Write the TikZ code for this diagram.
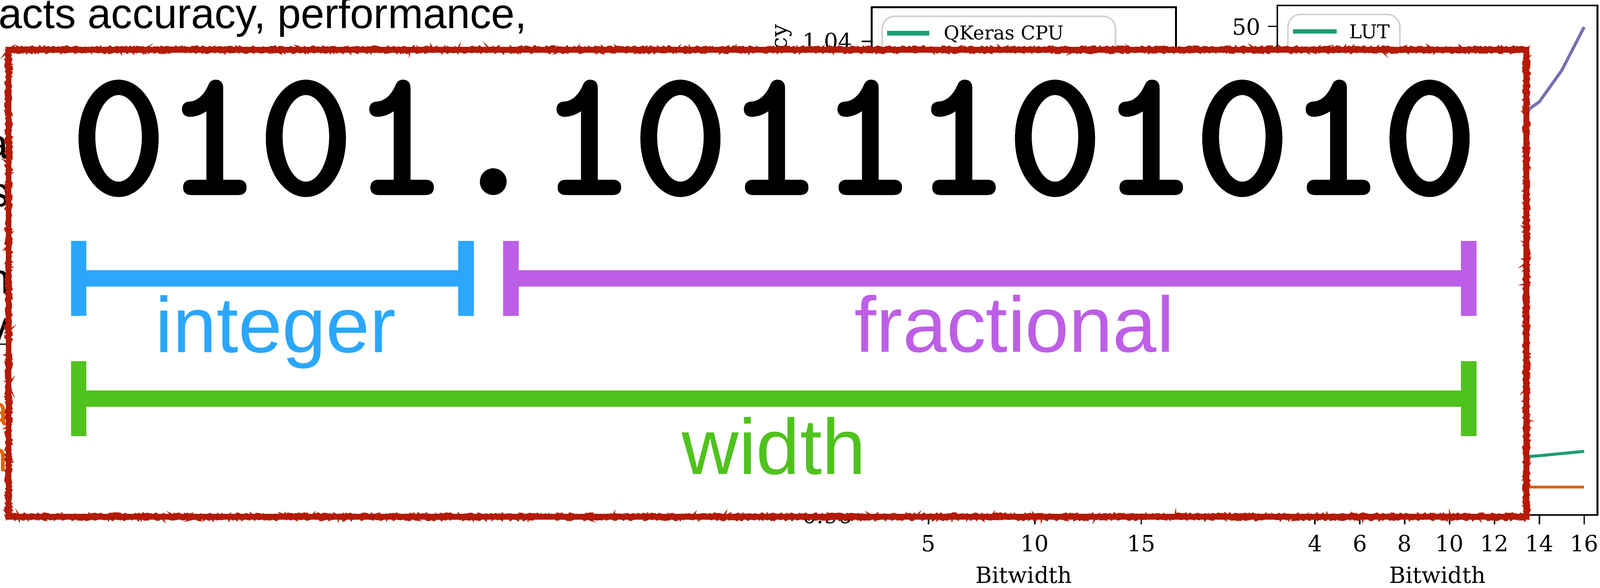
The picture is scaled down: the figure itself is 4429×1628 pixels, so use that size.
\documentclass[tikz,border=0pt]{standalone}
\usepackage{fontspec}
\setmainfont{Liberation Sans}
\newfontfamily\plotfont{DejaVu Serif}
\newfontfamily\bitfont{lmmono10-regular.otf}[FakeBold=2.5]
\usetikzlibrary{decorations.pathmorphing}
\definecolor{intblue}{RGB}{42,167,253}
\definecolor{fracpurple}{RGB}{189,95,230}
\definecolor{widthgreen}{RGB}{80,194,30}
\definecolor{roughred}{RGB}{180,26,4}
\definecolor{dtwogreen}{RGB}{27,158,119}
\definecolor{dtwoorange}{RGB}{217,95,2}
\definecolor{dtwopurple}{RGB}{117,112,179}
\definecolor{legendgray}{RGB}{208,208,208}
\definecolor{slideorange}{RGB}{222,100,8}

\tikzset{
  spanbar/.style={line width=13pt},
  spantick/.style={line width=12.2pt},
  spanlabel/.style={font=\fontsize{62}{70}\selectfont, inner sep=0, anchor=base},
  plotlabel/.style={font=\plotfont\fontsize{17.6}{20}\selectfont, inner sep=0},
  legendtext/.style={font=\plotfont\fontsize{15}{17}\selectfont, inner sep=0, anchor=base west},
  legendframe/.style={legendgray, line width=1.2pt, rounded corners=10},
  spine/.style={line width=1.4pt},
  plottick/.style={line width=1.2pt},
  curve/.style={line width=2.4pt},
  slidetext/.style={font=\fontsize{33.3}{40}\selectfont, inner sep=0},
  roughedge/.style={roughred, decorate, decoration={random steps, segment length=1.2pt, amplitude=1.1pt}},
}

\begin{document}
\begin{tikzpicture}[x=0.01cm, y=-0.01cm]
\useasboundingbox (0,0) rectangle (4429,1628);
\fill[white] (0,0) rectangle (4429,1628);

% slide behind the overlay
\node[slidetext, anchor=base west] (slideline) at (-5,78) {acts accuracy, performance,};
\node[slidetext, anchor=base east] (fraga) at (24,440) {a};
\node[slidetext, anchor=base east] (frags) at (26,573) {s};
\node[slidetext, anchor=base east] (fragn) at (28,813) {n};
\node[slidetext, anchor=base east] (fragv) at (24,945) {v};
\draw[line width=0.9pt] (0,953) -- (30,953);
\node[slidetext, anchor=base east, text=slideorange] (fragoa) at (24,1178) {a};
\node[slidetext, anchor=base east, text=slideorange] (fragon) at (22,1306) {n};

% left plot
\draw[spine] (2413,20) rectangle (3255,1428);
\draw[legendframe] (2442,300) -- (2442,45) -- (3088,45) -- (3088,300);
\draw[dtwogreen, line width=3.5pt] (2456,92) -- (2572,92);
\node[legendtext] (lgqkeras) at (2612,110) {QKeras CPU};
\draw[plottick] (2385,115) -- (2413,115);
\node[plotlabel, anchor=base east] (ytop) at (2360,137) {1.04};
\node[plotlabel, anchor=base east] (ybot) at (2360,1450) {0.96};
\node[plotlabel, rotate=90, anchor=base east] (yaxis) at (2178,67) {Accuracy};
\foreach \x/\v in {2570/5,2864/10,3159/15} {
  \draw[plottick] (\x,1428) -- (\x,1452);
  \node[plotlabel, anchor=base] (bwa\v) at (\x,1527) {\v};
}
\node[plotlabel, anchor=base] (xaxisa) at (2834,1615) {Bitwidth};

% right plot
\draw[dtwopurple, curve] (4012,420) -- (4136,370) -- (4261,282) -- (4323,195) -- (4385,75);
\draw[dtwogreen, curve] (4012,1280) -- (4136,1272) -- (4261,1262) -- (4385,1250);
\draw[dtwoorange, curve] (4012,1349) -- (4385,1349);
\draw[spine] (3536,15) rectangle (4422,1426);
\draw[legendframe] (3565,300) -- (3565,40) -- (3875,40) -- (3875,300);
\draw[dtwogreen, line width=3.5pt] (3579,87) -- (3700,87);
\node[legendtext] (lglut) at (3735,107) {LUT};
\draw[plottick] (3510,73) -- (3536,73);
\node[plotlabel, anchor=base east] (yfifty) at (3490,97) {50};
\foreach \v in {4,6,...,16} {
  \draw[plottick] ({3640+(\v-4)*62.1},1426) -- ({3640+(\v-4)*62.1},1452);
  \node[plotlabel, anchor=base] (bwb\v) at ({3640+(\v-4)*62.1},1527) {\v};
}
\node[plotlabel, anchor=base] (xaxisb) at (3979,1615) {Bitwidth};

% overlay
\draw[roughred, line width=4.4pt, fill=white] (24,138) rectangle (4225,1431);
\draw[roughedge, line width=1.4pt] (18,132) rectangle (4231,1437);
\draw[roughedge, line width=1.2pt] (30,144) rectangle (4219,1425);

\node[font=\bitfont\fontsize{140.4}{150}\selectfont, inner sep=0, anchor=base] (bits) at (2143,534) {0101.1011101010};

\coordinate (intL) at (218,771);
\coordinate (intR) at (1290,771);
\coordinate (fracL) at (1414,771);
\coordinate (fracR) at (4066,771);
\coordinate (widL) at (218,1104);
\coordinate (widR) at (4066,1104);

\draw[spanbar, intblue] (intL) -- (intR);
\draw[spanbar, fracpurple] (fracL) -- (fracR);
\draw[spanbar, widthgreen] (widL) -- (widR);
\foreach \e/\c in {intL/intblue, intR/intblue, fracL/fracpurple, fracR/fracpurple, widL/widthgreen, widR/widthgreen}
  \draw[spantick, \c] (\e) ++(0,-104) -- ++(0,208);

\node[spanlabel, text=intblue] (intlabel) at (763,976) {integer};
\node[spanlabel, text=fracpurple] (fraclabel) at (2808,975) {fractional};
\node[spanlabel, text=widthgreen] (widlabel) at (2142,1313) {width};
\end{tikzpicture}
\end{document}
